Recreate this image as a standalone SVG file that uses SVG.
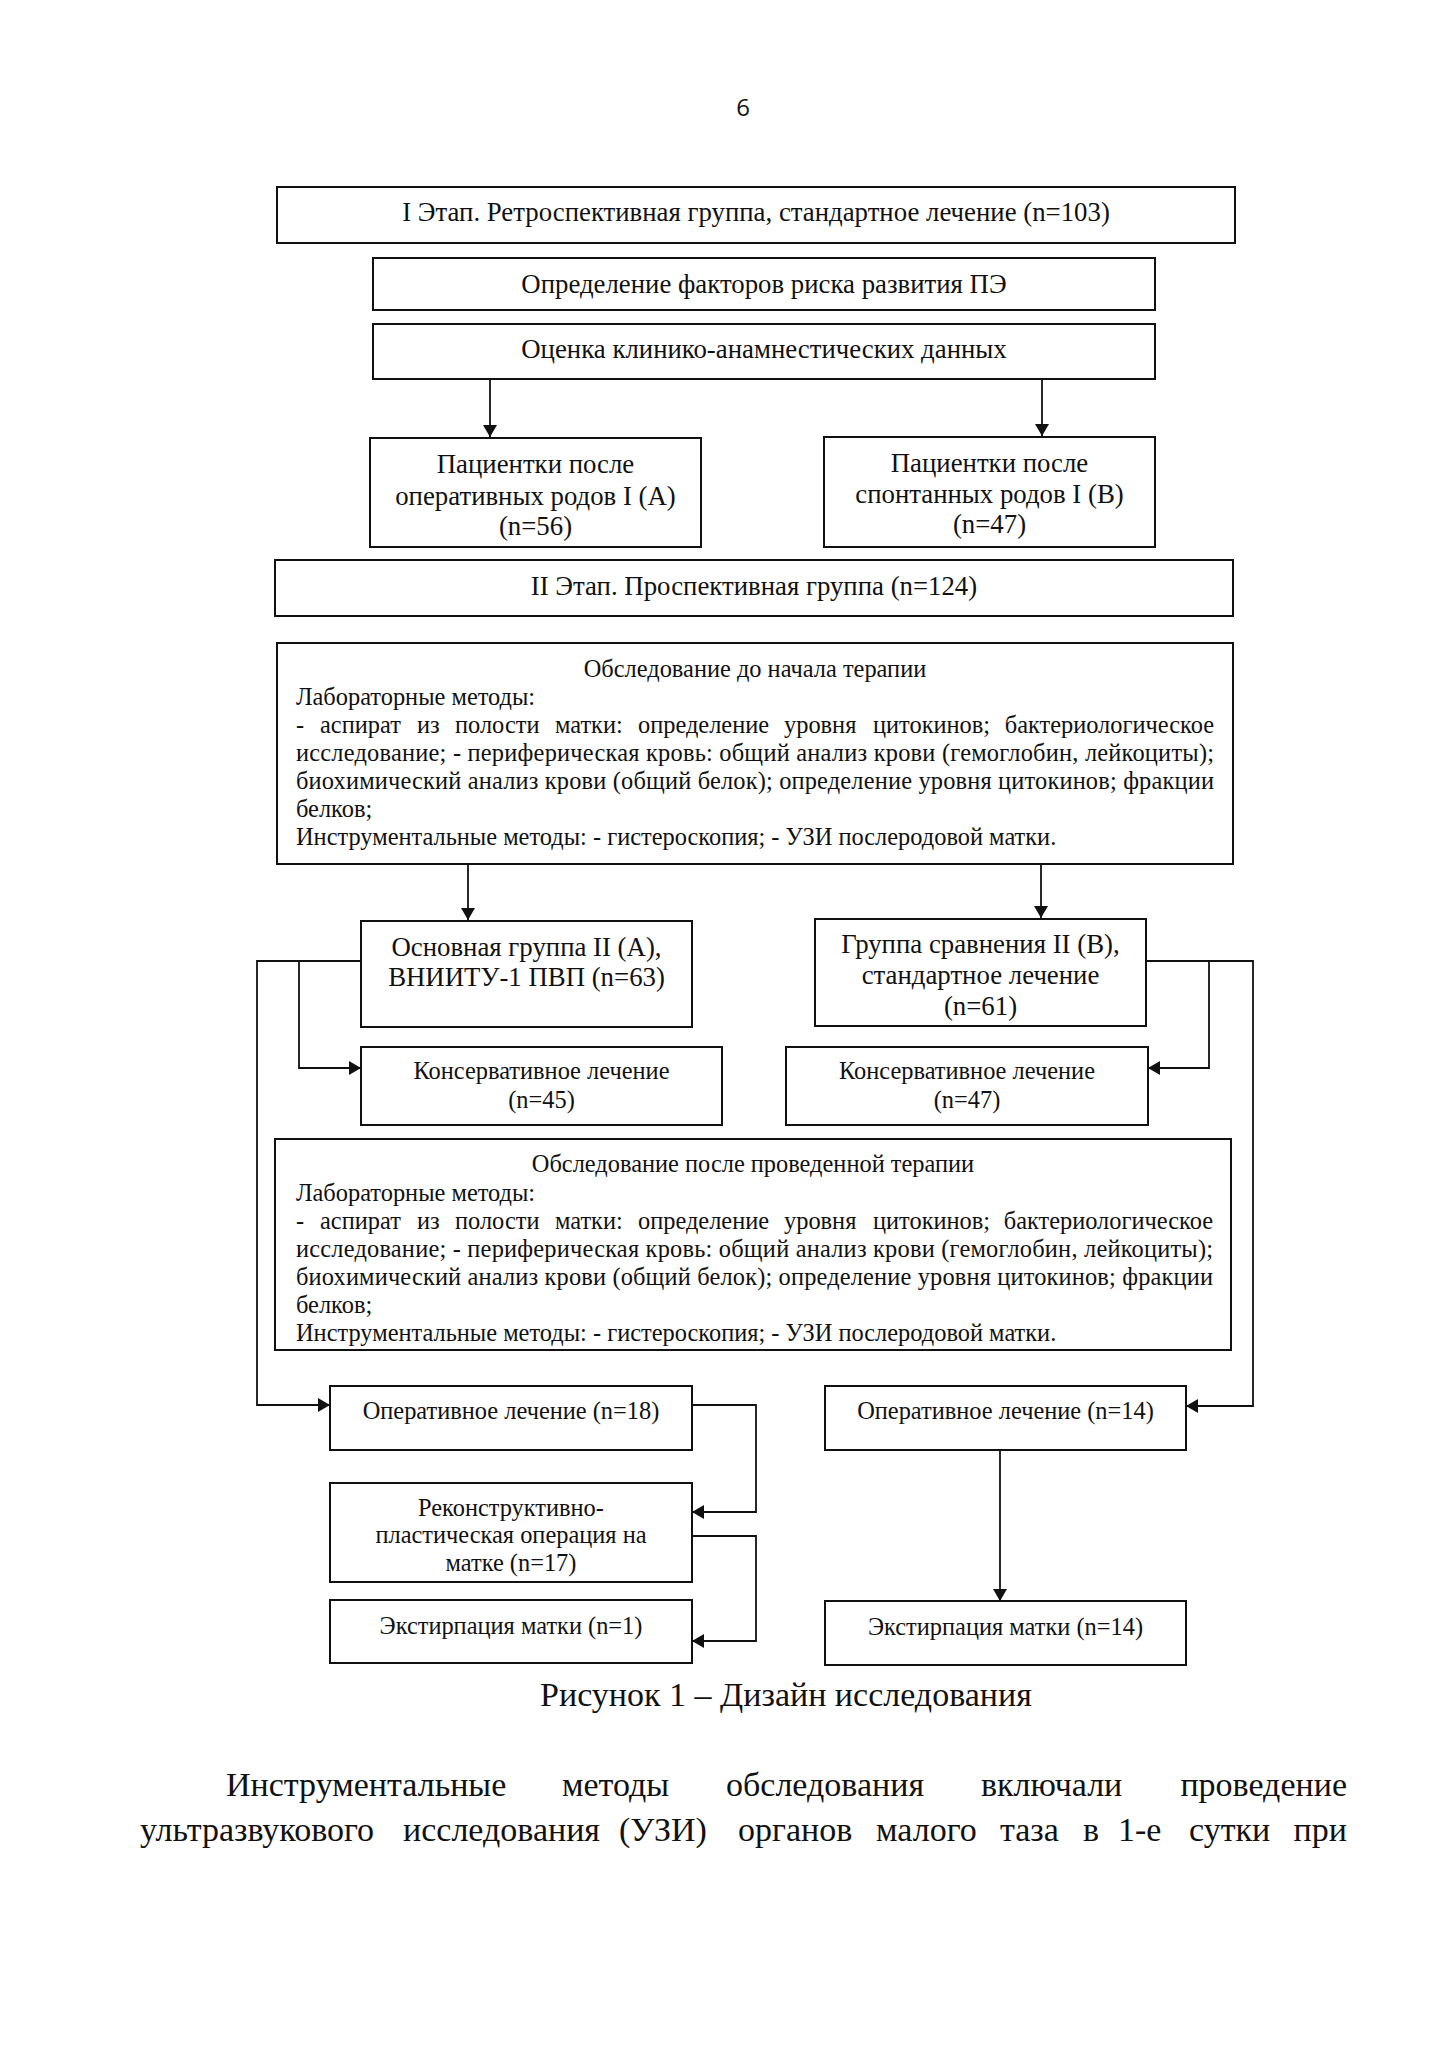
<svg xmlns="http://www.w3.org/2000/svg" width="1449" height="2050" viewBox="0 0 1449 2050">
<style>
.box{fill:#fff;stroke:#111;stroke-width:2}
.t{font-family:"Liberation Serif","Times New Roman",serif;fill:#111}
.big{font-size:26.8px}
.sm{font-size:24.4px}
.m{text-anchor:middle}
.e{text-anchor:end}
.par{font-size:34px}
.con{fill:none;stroke:#111;stroke-width:1.8}
</style>
<defs>
<marker id="arr" viewBox="0 0 12 14" refX="12" refY="7" markerWidth="12" markerHeight="14" orient="auto" markerUnits="userSpaceOnUse"><path d="M0,0 L12,7 L0,14 z" fill="#111"/></marker>
</defs>
<rect width="1449" height="2050" fill="#fff"/>
<text x="743" y="116" font-family="'Open Sans','Liberation Sans',sans-serif" font-size="24" fill="#111" text-anchor="middle">6</text>

<g id="connectors">
<path class="con" d="M490,380 V437" marker-end="url(#arr)"/>
<path class="con" d="M1042,380 V436" marker-end="url(#arr)"/>
<path class="con" d="M468,865 V920" marker-end="url(#arr)"/>
<path class="con" d="M1041,865 V918" marker-end="url(#arr)"/>
<path class="con" d="M361,961 H257 V1405 H330" marker-end="url(#arr)"/>
<path class="con" d="M299,961 V1068 H361" marker-end="url(#arr)"/>
<path class="con" d="M1146,961 H1253 V1406 H1186" marker-end="url(#arr)"/>
<path class="con" d="M1209,961 V1068 H1148" marker-end="url(#arr)"/>
<path class="con" d="M692,1405 H756 V1512 H692" marker-end="url(#arr)"/>
<path class="con" d="M692,1536 H756 V1641 H692" marker-end="url(#arr)"/>
<path class="con" d="M1000,1450 V1601" marker-end="url(#arr)"/>
</g>

<g id="n1"><rect class="box" x="277" y="187" width="958" height="56"/>
<text class="t big m" x="756" y="221">I Этап. Ретроспективная группа, стандартное лечение (n=103)</text></g>
<g id="n2"><rect class="box" x="373" y="258" width="782" height="52"/>
<text class="t big m" x="764" y="293">Определение факторов риска развития ПЭ</text></g>
<g id="n3"><rect class="box" x="373" y="324" width="782" height="55"/>
<text class="t big m" x="764" y="358">Оценка клинико-анамнестических данных</text></g>
<g id="n4"><rect class="box" x="370" y="438" width="331" height="109"/>
<text class="t big m" x="535.5" y="473">Пациентки после</text>
<text class="t big m" x="535.5" y="505">оперативных родов I (А)</text>
<text class="t big m" x="535.5" y="535">(n=56)</text></g>
<g id="n5"><rect class="box" x="824" y="437" width="331" height="110"/>
<text class="t big m" x="989.5" y="472">Пациентки после</text>
<text class="t big m" x="989.5" y="503">спонтанных родов I (В)</text>
<text class="t big m" x="989.5" y="533">(n=47)</text></g>
<g id="n6"><rect class="box" x="275" y="560" width="958" height="56"/>
<text class="t big m" x="754" y="595">II Этап. Проспективная группа (n=124)</text></g>

<g id="n7"><rect class="box" x="277" y="643" width="956" height="221"/>
<text class="t sm m" x="755" y="677">Обследование до начала терапии</text>
<text class="t sm" x="296" y="705">Лабораторные методы:</text>
<g class="t sm">
<text x="296" y="733">-</text><text x="320" y="733">аспират</text><text x="417" y="733">из</text><text x="455" y="733">полости</text><text x="555" y="733">матки:</text><text x="638" y="733">определение</text><text x="784" y="733">уровня</text><text x="873" y="733">цитокинов;</text><text class="e" x="1214" y="733">бактериологическое</text>
</g>
<text class="t sm" x="296" y="761" textLength="918" lengthAdjust="spacing">исследование; - периферическая кровь: общий анализ крови (гемоглобин, лейкоциты);</text>
<text class="t sm" x="296" y="789" textLength="918" lengthAdjust="spacing">биохимический анализ крови (общий белок); определение уровня цитокинов; фракции</text>
<text class="t sm" x="296" y="817">белков;</text>
<text class="t sm" x="296" y="845">Инструментальные методы: - гистероскопия; - УЗИ послеродовой матки.</text></g>

<g id="n8"><rect class="box" x="361" y="921" width="331" height="106"/>
<text class="t big m" x="526.5" y="956">Основная группа II (А),</text>
<text class="t big m" x="526.5" y="986">ВНИИТУ-1 ПВП (n=63)</text></g>
<g id="n9"><rect class="box" x="815" y="919" width="331" height="107"/>
<text class="t big m" x="980.5" y="953">Группа сравнения II (В),</text>
<text class="t big m" x="980.5" y="984">стандартное лечение</text>
<text class="t big m" x="980.5" y="1015">(n=61)</text></g>
<g id="n10"><rect class="box" x="361" y="1047" width="361" height="78"/>
<text class="t sm m" x="541.5" y="1079">Консервативное лечение</text>
<text class="t sm m" x="541.5" y="1108">(n=45)</text></g>
<g id="n11"><rect class="box" x="786" y="1047" width="362" height="78"/>
<text class="t sm m" x="967" y="1079">Консервативное лечение</text>
<text class="t sm m" x="967" y="1108">(n=47)</text></g>

<g id="n12"><rect class="box" x="275" y="1139" width="956" height="211"/>
<text class="t sm m" x="753" y="1172">Обследование после проведенной терапии</text>
<text class="t sm" x="296" y="1201">Лабораторные методы:</text>
<g class="t sm">
<text x="296" y="1229">-</text><text x="320" y="1229">аспират</text><text x="417" y="1229">из</text><text x="455" y="1229">полости</text><text x="555" y="1229">матки:</text><text x="638" y="1229">определение</text><text x="784" y="1229">уровня</text><text x="873" y="1229">цитокинов;</text><text class="e" x="1213" y="1229">бактериологическое</text>
</g>
<text class="t sm" x="296" y="1257" textLength="917" lengthAdjust="spacing">исследование; - периферическая кровь: общий анализ крови (гемоглобин, лейкоциты);</text>
<text class="t sm" x="296" y="1285" textLength="917" lengthAdjust="spacing">биохимический анализ крови (общий белок); определение уровня цитокинов; фракции</text>
<text class="t sm" x="296" y="1313">белков;</text>
<text class="t sm" x="296" y="1341">Инструментальные методы: - гистероскопия; - УЗИ послеродовой матки.</text></g>

<g id="n13"><rect class="box" x="330" y="1386" width="362" height="64"/>
<text class="t sm m" x="511" y="1419">Оперативное лечение (n=18)</text></g>
<g id="n14"><rect class="box" x="825" y="1386" width="361" height="64"/>
<text class="t sm m" x="1005.5" y="1419">Оперативное лечение (n=14)</text></g>
<g id="n15"><rect class="box" x="330" y="1483" width="362" height="99"/>
<text class="t sm m" x="511" y="1516">Реконструктивно-</text>
<text class="t sm m" x="511" y="1543">пластическая операция на</text>
<text class="t sm m" x="511" y="1571">матке (n=17)</text></g>
<g id="n16"><rect class="box" x="330" y="1600" width="362" height="63"/>
<text class="t sm m" x="511" y="1634">Экстирпация матки (n=1)</text></g>
<g id="n17"><rect class="box" x="825" y="1601" width="361" height="64"/>
<text class="t sm m" x="1005.5" y="1635">Экстирпация матки (n=14)</text></g>

<text class="t par m" x="786" y="1706">Рисунок 1 – Дизайн исследования</text>
<g class="t par">
<text x="226" y="1796">Инструментальные</text><text x="562" y="1796">методы</text><text x="726" y="1796">обследования</text><text x="981" y="1796">включали</text><text class="e" x="1347" y="1796">проведение</text>
<text x="140" y="1841">ультразвукового</text><text x="403" y="1841">исследования</text><text x="619" y="1841">(УЗИ)</text><text x="738" y="1841">органов</text><text x="876" y="1841">малого</text><text x="1000" y="1841">таза</text><text x="1083" y="1841">в</text><text x="1118" y="1841">1-е</text><text x="1189" y="1841">сутки</text><text class="e" x="1347" y="1841">при</text>
</g>
</svg>
